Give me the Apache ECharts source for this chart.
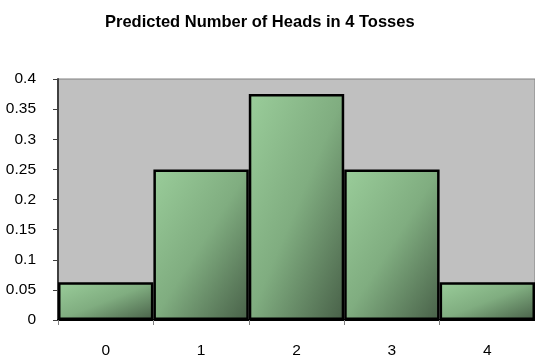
<!DOCTYPE html>
<html>
<head>
<meta charset="utf-8">
<script src="https://cdn.jsdelivr.net/npm/echarts@6/dist/echarts.min.js"></script>
<style>
  html, body { margin: 0; padding: 0; background: #ffffff; }
  #chart { width: 535px; height: 360px; }
</style>
</head>
<body>
<div id="chart"></div>
<script>
// Binomial distribution of heads in four fair coin tosses
const headCounts = ['0', '1', '2', '3', '4'];
const probabilities = [0.0625, 0.25, 0.375, 0.25, 0.0625];
const yTickLabels = ['0', '0.05', '0.1', '0.15', '0.2', '0.25', '0.3', '0.35', '0.4'];

const FONT = '"Liberation Sans", Arial, sans-serif';
const GRADIENT_STOPS = [
  { offset: 0, color: '#9acd9a' },
  { offset: 0.5, color: '#80ad80' },
  { offset: 1, color: '#486048' }
];

const chart = echarts.init(document.getElementById('chart'), null, { renderer: 'canvas' });

chart.setOption({
  animation: false,
  title: {
    text: 'Predicted Number of Heads in 4 Tosses',
    left: 100,
    top: 9,
    textStyle: { fontFamily: FONT, fontSize: 16.5, fontWeight: 'bold', color: '#000000' }
  },
  grid: {
    left: 58,
    top: 79,
    width: 483,
    height: 241,
    show: true,
    backgroundColor: '#c0c0c0',
    borderColor: '#808080',
    borderWidth: 1
  },
  xAxis: {
    type: 'category',
    data: headCounts,
    axisLine: { show: true, lineStyle: { color: '#000000', width: 2 } },
    axisTick: { show: true, alignWithLabel: false, length: 5, lineStyle: { color: '#808080', width: 1 } },
    axisLabel: { fontFamily: FONT, fontSize: 15.5, color: '#000000', margin: 23 },
    splitLine: { show: false }
  },
  yAxis: {
    type: 'value',
    min: 0,
    max: 0.4,
    interval: 0.05,
    axisLine: { show: true, lineStyle: { color: '#404040', width: 2 } },
    axisTick: { show: true, inside: false, length: 5, lineStyle: { color: '#404040', width: 1 } },
    axisLabel: {
      fontFamily: FONT, fontSize: 15.5, color: '#000000', margin: 22,
      formatter: (v) => yTickLabels[Math.round(v / 0.05)]
    },
    splitLine: { show: false }
  },
  series: [{
    type: 'bar',
    data: probabilities,
    barCategoryGap: '0%',
    itemStyle: {
      color: '#8fbf8f',
      borderColor: '#000000',
      borderWidth: 2.5
    }
  }]
});

// Diagonal shading that runs corner to corner in each bar's own box:
// the colour value is (u + v) / 2 in the bar's normalised coordinates,
// so the direction vector depends on the bar's pixel aspect ratio.
function shapeGradient(w, h) {
  const d = w * w + h * h;
  return new echarts.graphic.LinearGradient(0, 0, 2 * h * h / d, 2 * w * w / d, GRADIENT_STOPS);
}

const bandWidth = Math.abs(
  chart.convertToPixel({ xAxisIndex: 0 }, headCounts[1]) -
  chart.convertToPixel({ xAxisIndex: 0 }, headCounts[0])
);
const zeroY = chart.convertToPixel({ yAxisIndex: 0 }, 0);

chart.setOption({
  series: [{
    data: probabilities.map((p) => {
      const h = Math.max(1, Math.abs(zeroY - chart.convertToPixel({ yAxisIndex: 0 }, p)));
      return { value: p, itemStyle: { color: shapeGradient(bandWidth, h) } };
    })
  }]
});
</script>
</body>
</html>
